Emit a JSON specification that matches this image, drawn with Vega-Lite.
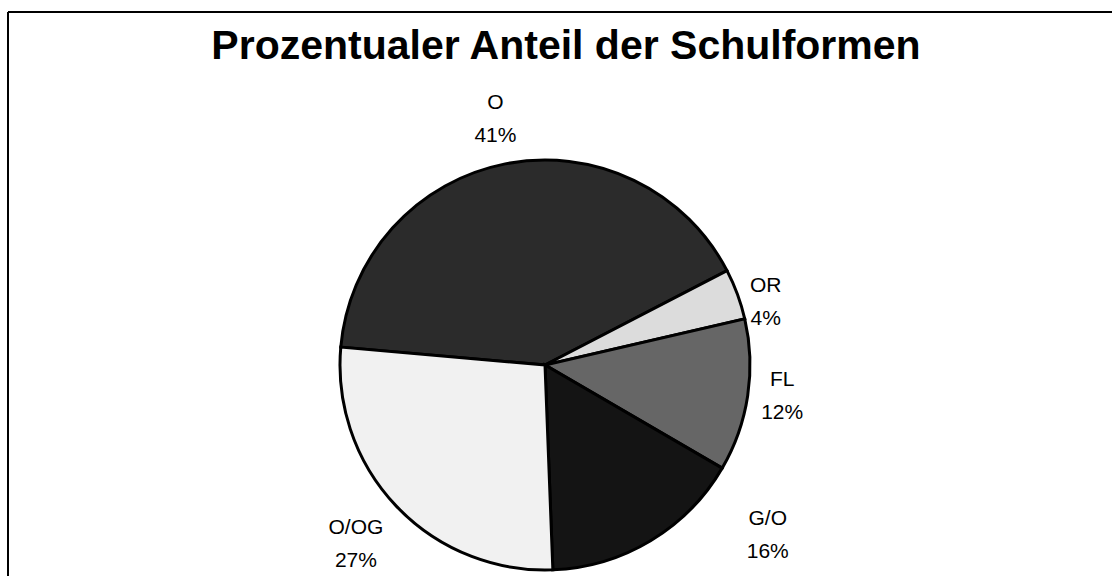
{
  "$schema": "https://vega.github.io/schema/vega-lite/v6.json",
  "width": 1110,
  "height": 570,
  "autosize": {"type": "none"},
  "padding": {"left": 8, "top": 12, "right": -6, "bottom": -6},
  "background": "white",
  "config": {"view": {"stroke": null}, "font": "Liberation Sans"},
  "title": {
    "text": "Prozentualer Anteil der Schulformen",
    "font": "Liberation Sans",
    "fontSize": 41,
    "fontWeight": "bold",
    "color": "black",
    "anchor": "middle",
    "orient": "top",
    "baseline": "alphabetic",
    "offset": -89,
    "dx": 3
  },
  "data": {
    "values": [
      {"Nr": 1, "Schulform": "O", "Anteil": 41, "Label": "O\n41%"},
      {"Nr": 2, "Schulform": "OR", "Anteil": 4, "Label": "OR\n4%"},
      {"Nr": 3, "Schulform": "FL", "Anteil": 12, "Label": "FL\n12%"},
      {"Nr": 4, "Schulform": "G/O", "Anteil": 16, "Label": "G/O\n16%"},
      {"Nr": 5, "Schulform": "O/OG", "Anteil": 27, "Label": "O/OG\n27%"}
    ]
  },
  "layer": [
    {
      "data": {"values": [{"Rahmen": "oben"}]},
      "mark": {"type": "rule", "stroke": "black", "strokeWidth": 2},
      "encoding": {"y": {"value": 0}}
    },
    {
      "data": {"values": [{"Rahmen": "links"}]},
      "mark": {"type": "rule", "stroke": "black", "strokeWidth": 2},
      "encoding": {"x": {"value": 0}}
    },
    {
      "mark": {
        "type": "arc",
        "outerRadius": 205,
        "stroke": "black",
        "strokeWidth": 3,
        "strokeJoin": "miter",
        "x": {"expr": "width/2 - 18"},
        "y": {"expr": "height/2 + 68"}
      },
      "encoding": {
        "theta": {"field": "Anteil", "type": "quantitative", "stack": true, "scale": {"range": [-1.4835, 4.7997]}},
        "order": {"field": "Nr", "type": "quantitative"},
        "color": {
          "field": "Schulform",
          "type": "nominal",
          "legend": null,
          "scale": {
            "domain": ["O", "OR", "FL", "G/O", "O/OG"],
            "range": ["#2b2b2b", "#dcdcdc", "#666666", "#141414", "#f1f1f1"]
          }
        }
      }
    },
    {
      "mark": {
        "type": "text",
        "radius": 250,
        "font": "Liberation Sans",
        "fontSize": 21,
        "lineBreak": "\n",
        "lineHeight": 33,
        "align": "center",
        "baseline": "middle",
        "color": "black",
        "x": {"expr": "width/2 - 18"},
        "y": {"expr": "height/2 + 68"},
        "dx": {"expr": "({'O': -1, 'OR': -14, 'FL': -10, 'G/O': 94, 'O/OG': -8})[datum.Schulform]"},
        "dy": {"expr": "({'O': -17, 'OR': 7, 'FL': -22, 'G/O': -60, 'O/OG': -9})[datum.Schulform]"}
      },
      "encoding": {
        "theta": {"field": "Anteil", "type": "quantitative", "stack": true, "scale": {"range": [-1.4835, 4.7997]}},
        "order": {"field": "Nr", "type": "quantitative"},
        "text": {"field": "Label", "type": "nominal"}
      }
    }
  ]
}
